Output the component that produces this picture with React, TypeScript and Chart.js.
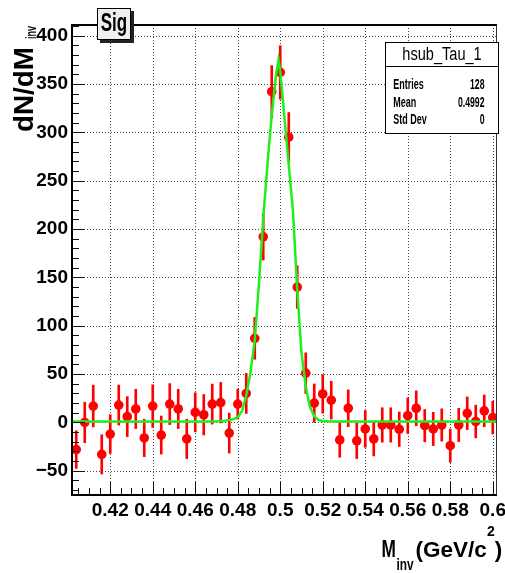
import React, { useEffect, useRef } from 'react';
import { Chart, registerables } from 'chart.js';

Chart.register(...registerables);

// ---------- data ----------
const binCenters = [
  0.404, 0.408, 0.412, 0.416, 0.42, 0.424, 0.428, 0.432, 0.436, 0.44,
  0.444, 0.448, 0.452, 0.456, 0.46, 0.464, 0.468, 0.472, 0.476, 0.48,
  0.484, 0.488, 0.492, 0.496, 0.5, 0.504, 0.508, 0.512, 0.516, 0.52,
  0.524, 0.528, 0.532, 0.536, 0.54, 0.544, 0.548, 0.552, 0.556, 0.56,
  0.564, 0.568, 0.572, 0.576, 0.58, 0.584, 0.588, 0.592, 0.596, 0.6,
];
const counts = [
  -28, 0, 17, -33, -12, 18, 6, 14, -16, 17,
  -13, 19, 14, -17, 10.5, 8, 19, 20.5, -11, 19,
  30, 87, 192, 342, 362, 295, 140, 51, 20, 29.5,
  23, -18, 14.7, -19, -6.7, -17, -2.6, -2.6, -7, 7,
  14.7, -3.3, -6.7, -2.6, -24, -2.6, 9.5, 1, 12, 5,
];
const errors = [
  19.5, 20.9, 21.6, 20.3, 20, 20.7, 20.7, 20.3, 19.3, 22,
  19.7, 21.2, 20.3, 20.3, 20.2, 20.9, 20.7, 20.9, 20.7, 15.5,
  20.7, 21.6, 24, 27, 27.6, 25.5, 22, 21, 19.8, 19.8,
  19.5, 18, 19, 18.3, 19, 17.6, 17.8, 17.8, 17.8, 18.4,
  18, 16.7, 17.2, 16.7, 17.2, 17.2, 16.9, 16.9, 16.4, 16.9,
];
const fitX = [
  0.402, 0.47, 0.474, 0.476, 0.478, 0.48, 0.482, 0.484, 0.486, 0.488,
  0.49, 0.492, 0.494, 0.496, 0.498, 0.4992, 0.5, 0.502, 0.504, 0.506,
  0.508, 0.51, 0.512, 0.514, 0.516, 0.518, 0.52, 0.524, 0.602,
];
const fitY = [
  1, 1, 1.8, 2.5, 3.5, 5.5, 11.6, 28, 52, 85,
  144, 211, 268, 318, 359, 375, 363, 315, 266, 218,
  137, 72, 37, 16, 6.5, 2.5, 1.5, 1, 1,
];
const xTickValues = [0.42, 0.44, 0.46, 0.48, 0.5, 0.52, 0.54, 0.56, 0.58, 0.6];
const yTickValues = [-50, 0, 50, 100, 150, 200, 250, 300, 350, 400];
const X_MIN = 0.402;
const X_MAX = 0.602;
const Y_MIN = -75;
const Y_MAX = 411;
const X_MINOR = 0.005;
const Y_MINOR = 10;

const histTitle = 'Sig';
const statsName = 'hsub_Tau_1';
const statsLabels = ['Entries', 'Mean', 'Std Dev'];
const statsValues = ['128', '0.4992', '0'];

const FONT = '"Liberation Sans", Arial, Helvetica, sans-serif';

function drawScaled(ctx: CanvasRenderingContext2D, text: string, x: number, y: number, font: string, align: CanvasTextAlign, factor: number) {
  ctx.save();
  ctx.font = font;
  ctx.textAlign = align;
  ctx.textBaseline = 'alphabetic';
  ctx.translate(x, y);
  ctx.scale(factor, 1);
  ctx.fillText(text, 0, 0);
  ctx.restore();
}

const rootStyle = {
  id: 'rootStyle',
  beforeDatasetsDraw(chart: any) {
    const { ctx, chartArea: a, scales } = chart;
    const xs = scales.x;
    const ys = scales.y;
    ctx.save();
    ctx.strokeStyle = '#444';
    ctx.lineWidth = 1;
    ctx.setLineDash([1, 2]);
    ctx.beginPath();
    xTickValues.forEach((v) => {
      const p = Math.round(xs.getPixelForValue(v)) + 0.5;
      ctx.moveTo(p, a.top);
      ctx.lineTo(p, a.bottom);
    });
    yTickValues.forEach((v) => {
      const p = Math.round(ys.getPixelForValue(v)) + 0.5;
      ctx.moveTo(a.left, p);
      ctx.lineTo(a.right, p);
    });
    ctx.stroke();
    ctx.restore();
  },
  afterDatasetsDraw(chart: any) {
    const { ctx, chartArea: a, scales } = chart;
    const xs = scales.x;
    const ys = scales.y;
    ctx.save();
    ctx.strokeStyle = '#111';
    ctx.lineWidth = 1;
    ctx.beginPath();
    // x ticks (inside, pointing up)
    for (let k = Math.ceil(X_MIN / X_MINOR - 1e-6); k * X_MINOR <= X_MAX + 1e-9; k++) {
      const v = k * X_MINOR;
      const major = Math.abs(v / 0.02 - Math.round(v / 0.02)) < 1e-6;
      const p = Math.round(xs.getPixelForValue(v)) + 0.5;
      ctx.moveTo(p, a.bottom);
      ctx.lineTo(p, a.bottom - (major ? 13 : 7));
    }
    // y ticks (inside, pointing right)
    for (let k = Math.ceil(Y_MIN / Y_MINOR); k * Y_MINOR <= Y_MAX; k++) {
      const v = k * Y_MINOR;
      const major = v % 50 === 0;
      const p = Math.round(ys.getPixelForValue(v)) + 0.5;
      ctx.moveTo(a.left, p);
      ctx.lineTo(a.left + (major ? 13 : 7), p);
    }
    ctx.stroke();
    // frame
    ctx.lineWidth = 2;
    ctx.strokeStyle = '#000';
    ctx.beginPath();
    ctx.moveTo(a.right, a.top);
    ctx.lineTo(a.left, a.top);
    ctx.lineTo(a.left, a.bottom);
    ctx.lineTo(a.right, a.bottom);
    ctx.stroke();
    ctx.lineWidth = 1;
    ctx.strokeStyle = '#333';
    ctx.beginPath();
    ctx.moveTo(a.right - 0.5, a.top);
    ctx.lineTo(a.right - 0.5, a.bottom);
    ctx.stroke();
    ctx.restore();
  },
  afterDraw(chart: any) {
    const { ctx } = chart;
    ctx.save();
    ctx.fillStyle = '#000';

    // Y axis title: dN/dM_inv (rotated)
    ctx.save();
    ctx.translate(33, 132);
    ctx.rotate(-Math.PI / 2);
    ctx.textAlign = 'left';
    ctx.textBaseline = 'alphabetic';
    ctx.font = `bold 28px ${FONT}`;
    const wMain = ctx.measureText('dN/dM').width;
    ctx.save();
    ctx.scale(85 / wMain, 1);
    ctx.fillText('dN/dM', 0, 0);
    ctx.restore();
    ctx.font = `bold 15px ${FONT}`;
    const wSub = ctx.measureText('inv').width;
    ctx.save();
    ctx.translate(93, 3);
    ctx.scale(13 / wSub, 1);
    ctx.fillText('inv', 0, 0);
    ctx.restore();
    ctx.restore();

    // X axis title: M_inv (GeV/c^2)
    drawScaled(ctx, 'M', 381.5, 557, `bold 23px ${FONT}`, 'left', 0.75);
    drawScaled(ctx, 'inv', 396.5, 570, `bold 16px ${FONT}`, 'left', 0.74);
    ctx.font = `bold 22.5px ${FONT}`;
    ctx.textAlign = 'left';
    ctx.textBaseline = 'alphabetic';
    const x0 = 415.5;
    ctx.fillText('(GeV/c', x0, 557);
    const w1 = ctx.measureText('(GeV/c').width;
    ctx.font = `bold 14px ${FONT}`;
    ctx.fillText('2', x0 + w1 + 0.3, 536);
    const w2 = ctx.measureText('2').width;
    ctx.font = `bold 22.5px ${FONT}`;
    ctx.fillText(')', x0 + w1 + w2 + 0.3, 557);

    // Title box "Sig"
    ctx.fillStyle = '#222';
    ctx.fillRect(100, 11, 34, 32);
    ctx.fillStyle = '#efefef';
    ctx.fillRect(97, 8, 34, 32);
    ctx.strokeStyle = '#000';
    ctx.lineWidth = 1;
    ctx.strokeRect(97.5, 8.5, 33, 31);
    ctx.fillStyle = '#000';
    drawScaled(ctx, histTitle, 114, 31, `bold 25px ${FONT}`, 'center', 0.68);

    // Stats box
    const bx = 385.5, by = 42.5, bw = 113, bh = 91;
    ctx.fillStyle = '#fff';
    ctx.fillRect(bx, by, bw, bh);
    ctx.strokeStyle = '#000';
    ctx.lineWidth = 1;
    ctx.strokeRect(bx, by, bw, bh);
    ctx.beginPath();
    ctx.moveTo(bx, 66.5);
    ctx.lineTo(bx + bw, 66.5);
    ctx.stroke();
    ctx.fillStyle = '#000';
    drawScaled(ctx, statsName, 442, 60, `18px ${FONT}`, 'center', 0.81);
    const rowY = [89, 106.5, 124];
    statsLabels.forEach((lab, i) => {
      drawScaled(ctx, lab, 393.3, rowY[i], `bold 15px ${FONT}`, 'left', 0.6);
      drawScaled(ctx, statsValues[i], 484.5, rowY[i], `bold 15px ${FONT}`, 'right', 0.58);
    });
    ctx.restore();
  },
};

export default function App() {
  const canvasRef = useRef<HTMLCanvasElement | null>(null);

  useEffect(() => {
    document.body.style.margin = '0';
    const canvas = canvasRef.current;
    if (!canvas) return;

    const errorBars = binCenters.map((c, i) => ({ x: c, y: [counts[i] - errors[i], counts[i] + errors[i]] }));
    const points = binCenters.map((c, i) => ({ x: c, y: counts[i] }));
    const fit = fitX.map((x, i) => ({ x, y: fitY[i] }));

    const tickFont = { family: FONT, size: 19, weight: 'bold' as const };

    const chart = new Chart(canvas, {
      type: 'scatter',
      data: {
        datasets: [
          {
            type: 'line',
            data: fit,
            borderColor: 'rgb(30,240,30)',
            borderWidth: 2.5,
            pointRadius: 0,
            tension: 0,
            fill: false,
            order: 0,
          } as any,
          {
            type: 'scatter',
            data: points,
            pointRadius: 4.8,
            pointBackgroundColor: '#ff0000',
            pointBorderWidth: 0,
            borderColor: '#ff0000',
            showLine: false,
            order: 1,
          } as any,
          {
            type: 'bar',
            data: errorBars,
            backgroundColor: '#ff0000',
            borderWidth: 0,
            barThickness: 2,
            grouped: false,
            order: 2,
          } as any,
        ],
      },
      options: {
        animation: false,
        responsive: false,
        devicePixelRatio: 1,
        events: [],
        layout: { padding: { left: 0, right: 8, top: 25, bottom: 0 } },
        plugins: {
          legend: { display: false },
          tooltip: { enabled: false },
          title: { display: false },
        },
        scales: {
          x: {
            type: 'linear',
            min: X_MIN,
            max: X_MAX,
            offset: false,
            grid: { display: false, drawTicks: false },
            border: { display: false },
            ticks: {
              autoSkip: false,
              maxRotation: 0,
              minRotation: 0,
              padding: 4,
              color: '#000',
              font: tickFont,
              callback: (v: any) => String(parseFloat(Number(v).toFixed(3))),
            },
            afterBuildTicks: (s: any) => {
              s.ticks = xTickValues.map((v) => ({ value: v }));
            },
            afterFit: (s: any) => {
              s.height = 78;
              s.paddingLeft = 0;
              s.paddingRight = 0;
            },
          },
          y: {
            type: 'linear',
            min: Y_MIN,
            max: Y_MAX,
            grid: { display: false, drawTicks: false },
            border: { display: false },
            ticks: {
              padding: 4,
              color: '#000',
              font: tickFont,
              callback: (v: any) => (Number(v) < 0 ? '\u2212' + Math.abs(Number(v)) : String(v)),
            },
            afterBuildTicks: (s: any) => {
              s.ticks = yTickValues.map((v) => ({ value: v }));
            },
            afterFit: (s: any) => {
              s.width = 72;
              s.paddingTop = 0;
              s.paddingBottom = 0;
            },
          },
        },
      },
      plugins: [rootStyle],
    } as any);

    return () => chart.destroy();
  }, []);

  return (
    <div style={{ position: 'absolute', left: 0, top: 0, width: 505, height: 573, background: '#fff' }}>
      <canvas ref={canvasRef} width={505} height={573} style={{ display: 'block' }} />
    </div>
  );
}
